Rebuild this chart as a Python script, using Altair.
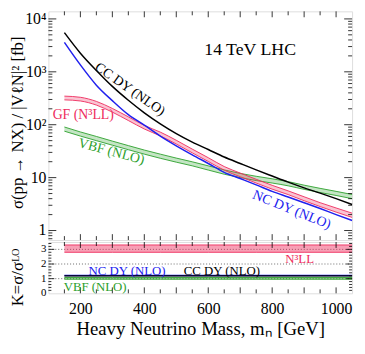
import altair as alt
import pandas as pd

# ------------------------- data -------------------------
mass = [150, 200, 250, 300, 350, 400, 450, 500, 550, 600, 650, 700, 750, 800, 850, 900, 950, 1000, 1050]
cc_dy = [5500, 2250, 1060, 530, 290, 168, 104, 68, 47, 34, 24.5, 18.5, 14, 10.7, 8.2, 6.4, 5.1, 4.0, 3.1]
nc_dy = [3600, 1350, 560, 285, 155, 98, 61, 40, 27, 18.5, 12.6, 9.6, 7.3, 5.5, 4.3, 3.35, 2.6, 2.0, 1.55]
gf_lo = [295, 281, 235, 173, 120, 83, 61.5, 43.2, 29.4, 20.2, 13.8, 10.4, 7.9, 6.05, 4.78, 3.66, 2.84, 2.23, 1.77]
gf_hi = [347, 330, 276, 203, 141, 97, 72.5, 50.8, 34.6, 23.8, 16.2, 12.2, 9.3, 7.15, 5.62, 4.34, 3.36, 2.67, 2.13]
vbf_lo = [75.5, 61, 50, 41, 33.7, 27.8, 23.2, 19.6, 16.7, 13.9, 11.6, 10.0, 8.8, 7.9, 7.0, 6.0, 5.23, 4.6, 4.0]
vbf_hi = [90.5, 73, 60, 49, 40.3, 33.2, 27.8, 23.4, 19.9, 16.7, 14.0, 12.0, 10.6, 9.5, 8.4, 7.2, 6.27, 5.5, 4.8]

k_mass = [150, 300, 450, 600, 750, 900, 1050]
k_gf_lo = [2.80, 2.80, 2.80, 2.80, 2.80, 2.80, 2.80]
k_gf_hi = [3.30, 3.30, 3.30, 3.30, 3.30, 3.30, 3.30]
k_vbf_lo = [0.96, 0.96, 0.96, 0.96, 0.96, 0.96, 0.96]
k_vbf_hi = [1.08, 1.08, 1.08, 1.08, 1.08, 1.08, 1.08]
k_nc = [1.22, 1.22, 1.22, 1.22, 1.22, 1.22, 1.22]
k_cc = [1.19, 1.19, 1.19, 1.19, 1.19, 1.19, 1.19]
k_ref = [1, 2, 3]

x_labels = [200, 400, 600, 800, 1000]
y_top_ticks = [1, 10, 100, 1000, 10000]
y_top_text = ["1", "10", "10²", "10³", "10⁴"]
y_bot_ticks = [0, 1, 2, 3]
y_bot_text = ["0", "1", "2", "3"]

top_title = "σ(pp → NX) / |VℓN|² [fb]"
bot_title = "K=σ/σᴸᴼ"
x_title = "Heavy Neutrino Mass, mₙ [GeV]"

# annotations: text, mass, value, angle, colour key
top_text = ["14 TeV LHC", "CC DY (NLO)", "GF (N³LL)", "VBF (NLO)", "NC DY (NLO)"]
top_text_m = [731, 355, 209, 297, 861]
top_text_v = [2570, 467, 155, 31, 2.46]
top_text_angle = [0, 35, 0, 15, 22]
top_text_col = ["k", "k", "r", "g", "b"]
top_text_size = [18, 14, 14, 14, 14]

bot_text = ["NC DY (NLO)", "CC DY (NLO)", "VBF (NLO)", "N³LL"]
bot_text_m = [346, 643, 246, 886]
bot_text_k = [1.53, 1.53, 0.42, 2.37]
bot_text_col = ["b", "k", "g", "r"]

# ------------------------------- styling ---------------------------------------
FONT = "Liberation Serif"
COL = {"k": "#000000", "b": "#2020ee", "r": "#ee2a5c", "g": "#2ca02c"}
W, HT, HB = 308, 232, 52

xsc = alt.Scale(domain=[100, 1050], nice=False, zero=False)
ytop = alt.Scale(type="log", domain=[0.66, 13900], nice=False)
ybot = alt.Scale(domain=[0, 3.5], nice=False, zero=False)

AX_XB = alt.Axis(
    values=x_labels, format="d", ticks=False, tickSize=0, domain=False, grid=False,
    labelFont=FONT, labelFontSize=16, labelPadding=7, labelColor="black",
    title=x_title, titleFont=FONT, titleFontSize=19,
    titleFontWeight="normal", titleColor="black", titlePadding=4)

df = pd.DataFrame({"m": mass, "cc": cc_dy, "nc": nc_dy, "gf_lo": gf_lo, "gf_hi": gf_hi,
                   "vbf_lo": vbf_lo, "vbf_hi": vbf_hi})
dk = pd.DataFrame({"m": k_mass, "gf_lo": k_gf_lo, "gf_hi": k_gf_hi, "vbf_lo": k_vbf_lo,
                   "vbf_hi": k_vbf_hi, "nc": k_nc, "cc": k_cc})
ONE = pd.DataFrame({"a": [0]})


def XT(f="m"):
    return alt.X(f + ":Q", scale=xsc, axis=None)


def XB(f="m"):
    return alt.X(f + ":Q", scale=xsc, axis=AX_XB)


def YT(f):
    return alt.Y(f + ":Q", scale=ytop, axis=None)


def YB(f):
    return alt.Y(f + ":Q", scale=ybot, axis=None)


def xticks(h, xf):
    maj = pd.DataFrame({"t": [x for x in range(200, 1001, 100)]})
    mnr = pd.DataFrame({"t": [x for x in range(150, 1001, 100)]})
    out = []
    for d, L in ((maj, 6), (mnr, 4)):
        b = alt.Chart(d).mark_rule(color="black", strokeWidth=0.8)
        out.append(b.encode(x=xf("t"), y=alt.value(0), y2=alt.value(L)))
        out.append(b.encode(x=xf("t"), y=alt.value(h), y2=alt.value(h - L)))
    return out


def yticks(major, minor, yf, Lmaj=8, Lmin=4):
    out = []
    for vals, L in ((major, Lmaj), (minor, Lmin)):
        b = alt.Chart(pd.DataFrame({"t": vals})).mark_rule(color="black", strokeWidth=0.8)
        out.append(b.encode(y=yf("t"), x=alt.value(0), x2=alt.value(L)))
        out.append(b.encode(y=yf("t"), x=alt.value(W), x2=alt.value(W - L)))
    return out


def ylabels(vals, texts, yf, size):
    d = pd.DataFrame({"t": vals, "s": texts})
    return alt.Chart(d).mark_text(font=FONT, fontSize=size, color="black", align="right",
                                  baseline="middle").encode(y=yf("t"), x=alt.value(-2), text="s:N")


def ytitle(text, ypix):
    return alt.Chart(ONE).mark_text(font=FONT, fontSize=17, color="black", angle=270, align="center",
                                    baseline="middle", text=text).encode(x=alt.value(-31), y=alt.value(ypix))


# ------------------------------- top panel --------------------------------------
base = alt.Chart(df)
vbf_band = base.mark_area(color=COL["g"], opacity=0.28, interpolate="monotone").encode(
    x=XT(), y=YT("vbf_lo"), y2="vbf_hi:Q")
vbf_e1 = base.mark_line(color=COL["g"], strokeWidth=0.9, interpolate="monotone").encode(x=XT(), y=YT("vbf_lo"))
vbf_e2 = base.mark_line(color=COL["g"], strokeWidth=0.9, interpolate="monotone").encode(x=XT(), y=YT("vbf_hi"))
gf_band = base.mark_area(color=COL["r"], opacity=0.28, interpolate="monotone").encode(
    x=XT(), y=YT("gf_lo"), y2="gf_hi:Q")
gf_e1 = base.mark_line(color=COL["r"], strokeWidth=0.9, interpolate="monotone").encode(x=XT(), y=YT("gf_lo"))
gf_e2 = base.mark_line(color=COL["r"], strokeWidth=0.9, interpolate="monotone").encode(x=XT(), y=YT("gf_hi"))
nc_line = base.mark_line(color=COL["b"], strokeWidth=1.5, interpolate="monotone").encode(x=XT(), y=YT("nc"))
cc_line = base.mark_line(color=COL["k"], strokeWidth=1.5, interpolate="monotone").encode(x=XT(), y=YT("cc"))

top_texts = []
for t, m, v, a, c, s in zip(top_text, top_text_m, top_text_v, top_text_angle, top_text_col, top_text_size):
    d = pd.DataFrame({"m": [m], "v": [v], "t": [t]})
    top_texts.append(alt.Chart(d).mark_text(font=FONT, fontSize=s, color=COL[c], angle=a,
                                            align="center", baseline="middle").encode(
        x=XT(), y=YT("v"), text="t:N"))

y_minor = [k * 10 ** e for e in range(-1, 4) for k in range(2, 10) if 0.66 < k * 10 ** e < 13900]

top = alt.layer(vbf_band, vbf_e1, vbf_e2, gf_band, gf_e1, gf_e2, nc_line, cc_line,
                *xticks(HT, XT), *yticks(y_top_ticks, y_minor, YT), *top_texts,
                ylabels(y_top_ticks, y_top_text, YT, 16), ytitle(top_title, 113)
                ).properties(width=W, height=HT)

# ------------------------------ bottom panel ------------------------------------
bk = alt.Chart(dk)
refl = alt.Chart(pd.DataFrame({"k": k_ref})).mark_rule(color="#444444", strokeWidth=0.8, strokeDash=[1, 2]).encode(
    y=YB("k"))
gfk = bk.mark_area(color=COL["r"], opacity=0.45).encode(x=XB(), y=YB("gf_lo"), y2="gf_hi:Q")
gfk1 = bk.mark_line(color=COL["r"], strokeWidth=0.9).encode(x=XB(), y=YB("gf_lo"))
gfk2 = bk.mark_line(color=COL["r"], strokeWidth=0.9).encode(x=XB(), y=YB("gf_hi"))
vbfk = bk.mark_area(color=COL["g"], opacity=0.45).encode(x=XB(), y=YB("vbf_lo"), y2="vbf_hi:Q")
vbfk1 = bk.mark_line(color=COL["g"], strokeWidth=0.9).encode(x=XB(), y=YB("vbf_lo"))
vbfk2 = bk.mark_line(color=COL["g"], strokeWidth=0.9).encode(x=XB(), y=YB("vbf_hi"))
nck = bk.mark_line(color=COL["b"], strokeWidth=1.5).encode(x=XB(), y=YB("nc"))
cck = bk.mark_line(color=COL["k"], strokeWidth=1.2).encode(x=XB(), y=YB("cc"))

bot_texts = []
for t, m, k, c in zip(bot_text, bot_text_m, bot_text_k, bot_text_col):
    d = pd.DataFrame({"m": [m], "k": [k], "t": [t]})
    bot_texts.append(alt.Chart(d).mark_text(font=FONT, fontSize=13, color=COL[c],
                                            align="center", baseline="middle").encode(
        x=XB(), y=YB("k"), text="t:N"))

k_minor = [round(0.2 * i, 1) for i in range(1, 18) if i % 5 != 0]

bottom = alt.layer(refl, gfk, gfk1, gfk2, vbfk, vbfk1, vbfk2, nck, cck,
                   *xticks(HB, XB), *yticks([1, 2, 3], k_minor, YB, 6, 3), *bot_texts,
                   ylabels(y_bot_ticks, y_bot_text, YB, 11), ytitle(bot_title, 36)
                   ).properties(width=W, height=HB)

chart = alt.vconcat(top, bottom, spacing=0).properties(
    padding={"left": 0, "top": 0, "right": 1, "bottom": 0}
).configure_view(stroke="black", strokeWidth=1).configure(font=FONT)

chart.save("out.html", embed_options={"renderer": "svg", "actions": False})
